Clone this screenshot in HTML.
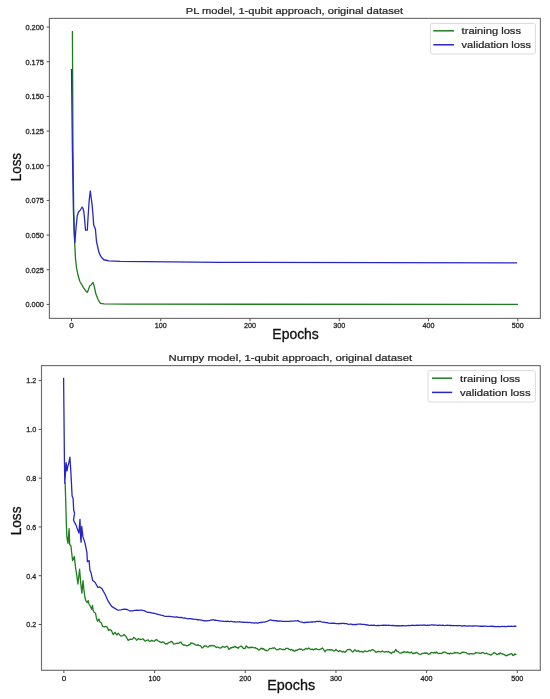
<!DOCTYPE html>
<html><head><meta charset="utf-8"><title>Loss curves</title>
<style>
html,body{margin:0;padding:0;background:#fff;}
body{width:550px;height:699px;overflow:hidden;font-family:"Liberation Sans", sans-serif;}
svg{display:block;will-change:transform;}
</style></head><body>
<svg width="550" height="699" viewBox="0 0 550 699" font-family="'Liberation Sans', sans-serif">
<rect width="550" height="699" fill="#fff"/>
<rect x="49.4" y="18.4" width="491" height="300" fill="none" stroke="#6f6f6f" stroke-width="1.15"/>
<line x1="71.5" y1="318.4" x2="71.5" y2="321.2" stroke="#505050" stroke-width="1"/>
<text x="71.5" y="328.1" font-size="7.9" text-anchor="middle" fill="#262626" textLength="4.5" lengthAdjust="spacingAndGlyphs" stroke="#262626" stroke-width="0.3">0</text>
<line x1="160.76" y1="318.4" x2="160.76" y2="321.2" stroke="#505050" stroke-width="1"/>
<text x="160.76" y="328.1" font-size="7.9" text-anchor="middle" fill="#262626" textLength="12" lengthAdjust="spacingAndGlyphs" stroke="#262626" stroke-width="0.3">100</text>
<line x1="250.02" y1="318.4" x2="250.02" y2="321.2" stroke="#505050" stroke-width="1"/>
<text x="250.02" y="328.1" font-size="7.9" text-anchor="middle" fill="#262626" textLength="12" lengthAdjust="spacingAndGlyphs" stroke="#262626" stroke-width="0.3">200</text>
<line x1="339.28" y1="318.4" x2="339.28" y2="321.2" stroke="#505050" stroke-width="1"/>
<text x="339.28" y="328.1" font-size="7.9" text-anchor="middle" fill="#262626" textLength="12" lengthAdjust="spacingAndGlyphs" stroke="#262626" stroke-width="0.3">300</text>
<line x1="428.54" y1="318.4" x2="428.54" y2="321.2" stroke="#505050" stroke-width="1"/>
<text x="428.54" y="328.1" font-size="7.9" text-anchor="middle" fill="#262626" textLength="12" lengthAdjust="spacingAndGlyphs" stroke="#262626" stroke-width="0.3">400</text>
<line x1="517.8" y1="318.4" x2="517.8" y2="321.2" stroke="#505050" stroke-width="1"/>
<text x="517.8" y="328.1" font-size="7.9" text-anchor="middle" fill="#262626" textLength="12" lengthAdjust="spacingAndGlyphs" stroke="#262626" stroke-width="0.3">500</text>
<line x1="46.6" y1="304.4" x2="49.4" y2="304.4" stroke="#505050" stroke-width="1"/>
<text x="44" y="307.25" font-size="7.9" text-anchor="end" fill="#262626" textLength="18.6" lengthAdjust="spacingAndGlyphs" stroke="#262626" stroke-width="0.3">0.000</text>
<line x1="46.6" y1="269.74" x2="49.4" y2="269.74" stroke="#505050" stroke-width="1"/>
<text x="44" y="272.59" font-size="7.9" text-anchor="end" fill="#262626" textLength="18.6" lengthAdjust="spacingAndGlyphs" stroke="#262626" stroke-width="0.3">0.025</text>
<line x1="46.6" y1="235.08" x2="49.4" y2="235.08" stroke="#505050" stroke-width="1"/>
<text x="44" y="237.93" font-size="7.9" text-anchor="end" fill="#262626" textLength="18.6" lengthAdjust="spacingAndGlyphs" stroke="#262626" stroke-width="0.3">0.050</text>
<line x1="46.6" y1="200.42" x2="49.4" y2="200.42" stroke="#505050" stroke-width="1"/>
<text x="44" y="203.27" font-size="7.9" text-anchor="end" fill="#262626" textLength="18.6" lengthAdjust="spacingAndGlyphs" stroke="#262626" stroke-width="0.3">0.075</text>
<line x1="46.6" y1="165.76" x2="49.4" y2="165.76" stroke="#505050" stroke-width="1"/>
<text x="44" y="168.61" font-size="7.9" text-anchor="end" fill="#262626" textLength="18.6" lengthAdjust="spacingAndGlyphs" stroke="#262626" stroke-width="0.3">0.100</text>
<line x1="46.6" y1="131.1" x2="49.4" y2="131.1" stroke="#505050" stroke-width="1"/>
<text x="44" y="133.95" font-size="7.9" text-anchor="end" fill="#262626" textLength="18.6" lengthAdjust="spacingAndGlyphs" stroke="#262626" stroke-width="0.3">0.125</text>
<line x1="46.6" y1="96.44" x2="49.4" y2="96.44" stroke="#505050" stroke-width="1"/>
<text x="44" y="99.29" font-size="7.9" text-anchor="end" fill="#262626" textLength="18.6" lengthAdjust="spacingAndGlyphs" stroke="#262626" stroke-width="0.3">0.150</text>
<line x1="46.6" y1="61.78" x2="49.4" y2="61.78" stroke="#505050" stroke-width="1"/>
<text x="44" y="64.63" font-size="7.9" text-anchor="end" fill="#262626" textLength="18.6" lengthAdjust="spacingAndGlyphs" stroke="#262626" stroke-width="0.3">0.175</text>
<line x1="46.6" y1="27.12" x2="49.4" y2="27.12" stroke="#505050" stroke-width="1"/>
<text x="44" y="29.97" font-size="7.9" text-anchor="end" fill="#262626" textLength="18.6" lengthAdjust="spacingAndGlyphs" stroke="#262626" stroke-width="0.3">0.200</text>
<polyline points="72.4,31.1 72.6,69 73,150 73.7,210 74.7,243.7 75.5,258.6 76.5,267.8 78.2,275.8 79.9,281.5 83.3,287.3 85.6,290.7 87.3,292.4 88.5,289.5 89.6,286.1 91.3,284.7 93.1,282.4 94.2,286.1 95.9,294.1 98.2,299.8 100.5,303.3 103.9,303.9 125,304.2 518,304.3" fill="none" stroke="#1f7d1f" stroke-width="1.3" stroke-linejoin="round"/>
<polyline points="71.5,68.9 72.4,150 73.4,210 74.3,235 74.9,242.5 76,228 77.2,216 78.5,212 80,210.5 81,209 82.1,207 83,208.5 83.8,211.5 84.7,220 85.5,230.2 87.3,230.2 88.2,215 89.2,200 90.3,191 91.2,198 92.2,205.7 93,215 93.7,225 95.4,229 96.5,241.5 97.3,245 98.8,251.8 99.9,254.7 101.6,257.5 103.8,259.8 105.1,260 108.9,260.9 120,261.4 220,262.4 517.1,262.8" fill="none" stroke="#2626c6" stroke-width="1.3" stroke-linejoin="round"/>
<text x="294.4" y="14" font-size="9.1" text-anchor="middle" fill="#262626" textLength="217.2" lengthAdjust="spacingAndGlyphs" stroke="#262626" stroke-width="0.22">PL model, 1-qubit approach, original dataset</text>
<text x="295.6" y="339.2" font-size="14" text-anchor="middle" fill="#111" textLength="46.5" lengthAdjust="spacingAndGlyphs" stroke="#111" stroke-width="0.3">Epochs</text>
<text x="0" y="0" font-size="14.2" text-anchor="middle" fill="#111" stroke="#111" stroke-width="0.3" textLength="28.2" lengthAdjust="spacingAndGlyphs" transform="translate(21.4,167.1) rotate(-90)">Loss</text>
<rect x="430.4" y="23.4" width="105" height="30.6" rx="2" fill="#fff" fill-opacity="0.8" stroke="#d6d6d6" stroke-width="0.9"/>
<line x1="433.3" y1="30.8" x2="454" y2="30.8" stroke="#1f7d1f" stroke-width="1.5"/>
<line x1="433.3" y1="44.8" x2="454" y2="44.8" stroke="#2626c6" stroke-width="1.5"/>
<text x="461.6" y="34.1" font-size="9" text-anchor="start" fill="#262626" textLength="59.4" lengthAdjust="spacingAndGlyphs" stroke="#262626" stroke-width="0.22">training loss</text>
<text x="461.6" y="48.1" font-size="9" text-anchor="start" fill="#262626" textLength="69.4" lengthAdjust="spacingAndGlyphs" stroke="#262626" stroke-width="0.22">validation loss</text>
<rect x="41.5" y="365.6" width="498.8" height="304.7" fill="none" stroke="#6f6f6f" stroke-width="1.15"/>
<line x1="63.9" y1="670.3" x2="63.9" y2="673.1" stroke="#505050" stroke-width="1"/>
<text x="63.9" y="681.4" font-size="7.9" text-anchor="middle" fill="#262626" textLength="4.5" lengthAdjust="spacingAndGlyphs" stroke="#262626" stroke-width="0.3">0</text>
<line x1="154.58" y1="670.3" x2="154.58" y2="673.1" stroke="#505050" stroke-width="1"/>
<text x="154.58" y="681.4" font-size="7.9" text-anchor="middle" fill="#262626" textLength="12" lengthAdjust="spacingAndGlyphs" stroke="#262626" stroke-width="0.3">100</text>
<line x1="245.26" y1="670.3" x2="245.26" y2="673.1" stroke="#505050" stroke-width="1"/>
<text x="245.26" y="681.4" font-size="7.9" text-anchor="middle" fill="#262626" textLength="12" lengthAdjust="spacingAndGlyphs" stroke="#262626" stroke-width="0.3">200</text>
<line x1="335.94" y1="670.3" x2="335.94" y2="673.1" stroke="#505050" stroke-width="1"/>
<text x="335.94" y="681.4" font-size="7.9" text-anchor="middle" fill="#262626" textLength="12" lengthAdjust="spacingAndGlyphs" stroke="#262626" stroke-width="0.3">300</text>
<line x1="426.62" y1="670.3" x2="426.62" y2="673.1" stroke="#505050" stroke-width="1"/>
<text x="426.62" y="681.4" font-size="7.9" text-anchor="middle" fill="#262626" textLength="12" lengthAdjust="spacingAndGlyphs" stroke="#262626" stroke-width="0.3">400</text>
<line x1="517.3" y1="670.3" x2="517.3" y2="673.1" stroke="#505050" stroke-width="1"/>
<text x="517.3" y="681.4" font-size="7.9" text-anchor="middle" fill="#262626" textLength="12" lengthAdjust="spacingAndGlyphs" stroke="#262626" stroke-width="0.3">500</text>
<line x1="38.7" y1="624.5" x2="41.5" y2="624.5" stroke="#505050" stroke-width="1"/>
<text x="36.2" y="627.35" font-size="7.9" text-anchor="end" fill="#262626" textLength="10" lengthAdjust="spacingAndGlyphs" stroke="#262626" stroke-width="0.3">0.2</text>
<line x1="38.7" y1="575.72" x2="41.5" y2="575.72" stroke="#505050" stroke-width="1"/>
<text x="36.2" y="578.57" font-size="7.9" text-anchor="end" fill="#262626" textLength="10" lengthAdjust="spacingAndGlyphs" stroke="#262626" stroke-width="0.3">0.4</text>
<line x1="38.7" y1="526.94" x2="41.5" y2="526.94" stroke="#505050" stroke-width="1"/>
<text x="36.2" y="529.79" font-size="7.9" text-anchor="end" fill="#262626" textLength="10" lengthAdjust="spacingAndGlyphs" stroke="#262626" stroke-width="0.3">0.6</text>
<line x1="38.7" y1="478.16" x2="41.5" y2="478.16" stroke="#505050" stroke-width="1"/>
<text x="36.2" y="481.01" font-size="7.9" text-anchor="end" fill="#262626" textLength="10" lengthAdjust="spacingAndGlyphs" stroke="#262626" stroke-width="0.3">0.8</text>
<line x1="38.7" y1="429.38" x2="41.5" y2="429.38" stroke="#505050" stroke-width="1"/>
<text x="36.2" y="432.23" font-size="7.9" text-anchor="end" fill="#262626" textLength="10" lengthAdjust="spacingAndGlyphs" stroke="#262626" stroke-width="0.3">1.0</text>
<line x1="38.7" y1="380.6" x2="41.5" y2="380.6" stroke="#505050" stroke-width="1"/>
<text x="36.2" y="383.45" font-size="7.9" text-anchor="end" fill="#262626" textLength="10" lengthAdjust="spacingAndGlyphs" stroke="#262626" stroke-width="0.3">1.2</text>
<polyline points="65.1,482.3 65.7,500 66.3,522.9 66.9,537.7 68,543.4 69.1,528.6 69.7,544.6 70.9,545.7 71.4,550.3 72.6,560.6 74.3,556.6 74.9,561.7 75.6,568 76.7,574.9 77.9,584 79.6,569.2 80.7,582.9 81.9,593.2 83,580.6 83.7,588 84.6,595 85.2,598.8 86,601 87.1,602.6 88.2,600.5 88.7,603.2 90.4,606.5 91.7,609.2 92.5,605.4 93.1,610.3 94.2,612.5 95.5,613 96.4,617.9 97.5,621.2 99.1,619 99.6,621.7 101.3,622.8 102.7,626.4 104.5,626.8 105.9,626.4 107.3,627.3 108.6,630.5 110,629.5 111.4,630.5 113.2,634.5 115,632.3 116.8,635 118.2,633.2 120.5,635.9 122.7,635.9 124.1,634.5 125.9,636.4 128.2,640.5 130,639.1 131,639.4 131.91,639.31 132.81,638.92 133.72,637.47 134.63,638.07 135.54,638.57 136.44,640.28 137.35,639.7 138.26,638.57 139.16,639.1 140.07,639.09 140.98,639.6 141.88,639.27 142.79,638.77 143.7,639.39 144.61,640.96 145.51,641.14 146.42,640.32 147.33,640.15 148.23,639.89 149.14,641.07 150.05,641.36 150.95,640.88 151.86,640.23 152.77,640.89 153.68,641.15 154.58,641.19 155.49,640.01 156.4,639.44 157.3,640.3 158.21,640.98 159.12,641.34 160.02,641.9 160.93,642.47 161.84,642.54 162.75,641.79 163.65,642.27 164.56,643.09 165.47,643.99 166.37,643.69 167.28,643.94 168.19,643.02 169.09,642.54 170,642.16 170.91,641.6 171.82,641.44 172.72,642.69 173.63,644.06 174.54,643.9 175.44,643.64 176.35,643.34 177.26,643.16 178.16,643.5 179.07,643.05 179.98,642.32 180.89,642.08 181.79,643.82 182.7,644.6 183.61,645.16 184.51,644.78 185.42,645.23 186.33,645.83 187.23,645.56 188.14,645.71 189.05,644.51 189.96,644.72 190.86,642.78 191.77,643.31 192.68,643.27 193.58,643.84 194.49,643.78 195.4,644.98 196.3,645.24 197.21,645.27 198.12,644.65 199.03,645.5 199.93,645.67 200.84,645.91 201.75,647.78 202.65,647.81 203.56,646.74 204.47,645.82 205.37,646.18 206.28,645.94 207.19,646.87 208.1,647.11 209,646.1 209.91,645.63 210.82,646.03 211.72,645.44 212.63,645.52 213.54,645.81 214.44,645.86 215.35,646.62 216.26,647.52 217.17,647.2 218.07,647.09 218.98,647.88 219.89,647.94 220.79,648.07 221.7,647.38 222.61,646.39 223.51,646.83 224.42,647.25 225.33,647.21 226.24,646.35 227.14,646.25 228.05,647.62 228.96,649.38 229.86,648.73 230.77,647.54 231.68,647.99 232.58,647.23 233.49,647.48 234.4,646.67 235.31,646.49 236.21,647.49 237.12,647.29 238.03,648.41 238.93,647.15 239.84,646.84 240.75,646.21 241.65,646.04 242.56,647.55 243.47,648.47 244.38,648.49 245.28,648.31 246.19,645.85 247.1,646.67 248,647.83 248.91,647.24 249.82,647.95 250.72,647.17 251.63,647.59 252.54,647.19 253.45,647.59 254.35,647.77 255.26,647.5 256.17,648.43 257.07,648.56 257.98,649.51 258.89,650.07 259.79,649.6 260.7,648.48 261.61,648.24 262.52,649.19 263.42,648.5 264.33,649.61 265.24,650.24 266.14,650.24 267.05,650.94 267.96,650.45 268.86,649.39 269.77,648.37 270.68,648.62 271.59,648.58 272.49,647.95 273.4,648.25 274.31,647.69 275.21,648.42 276.12,649.25 277.03,649.91 277.93,649.58 278.84,649.27 279.75,648.55 280.66,648.9 281.56,649.21 282.47,649.52 283.38,649.28 284.28,649.77 285.19,649.2 286.1,648.3 287,648.33 287.91,648.32 288.82,649.19 289.73,649.51 290.63,650.06 291.54,649.39 292.45,650.29 293.35,650.09 294.26,651.28 295.17,650.93 296.07,649.99 296.98,650.55 297.89,649.74 298.8,649.43 299.7,648.85 300.61,649.43 301.52,649.09 302.42,650.21 303.33,649.89 304.24,649.83 305.14,649.03 306.05,648.34 306.96,649.08 307.87,648.79 308.77,647.94 309.68,648.69 310.59,649.48 311.49,649.44 312.4,649.11 313.31,649.92 314.21,649.18 315.12,649.29 316.03,648.64 316.94,649.17 317.84,649.29 318.75,649.55 319.66,649.59 320.56,649.16 321.47,648.69 322.38,647.92 323.28,649.09 324.19,650.51 325.1,651.74 326.01,650.26 326.91,649.95 327.82,649.57 328.73,649.77 329.63,649.68 330.54,650.05 331.45,649.68 332.35,650.01 333.26,650.88 334.17,650.77 335.07,650.6 335.98,649.37 336.89,650.31 337.8,651.05 338.7,651.59 339.61,650.66 340.52,650.88 341.42,651.59 342.33,652.01 343.24,651.33 344.14,651.89 345.05,652.31 345.96,651.29 346.87,650.32 347.77,649.57 348.68,649.51 349.59,649.32 350.49,649.81 351.4,650.54 352.31,651.78 353.21,651.82 354.12,650.3 355.03,649.77 355.94,650.7 356.84,651.39 357.75,650.95 358.66,650.52 359.56,651.87 360.47,651.71 361.38,651.3 362.28,651.64 363.19,652.34 364.1,651.41 365.01,650.94 365.91,651.4 366.82,651.6 367.73,651.28 368.63,650.97 369.54,650.47 370.45,651.06 371.35,650.11 372.26,649.65 373.17,649.88 374.08,650.44 374.98,651.21 375.89,652.32 376.8,652.16 377.7,651.47 378.61,651.5 379.52,651.61 380.42,651.84 381.33,651.92 382.24,650.89 383.15,651.54 384.05,651.79 384.96,652.04 385.87,651.69 386.77,651.69 387.68,651.99 388.59,651.46 389.49,652.32 390.4,652.68 391.31,653.46 392.22,652.53 393.12,651.84 394.03,652.27 394.94,650.98 395.84,649.44 396.75,651.12 397.66,651.19 398.56,651.81 399.47,652.84 400.38,653.14 401.29,653.14 402.19,652.19 403.1,652.73 404.01,651.54 404.91,652.21 405.82,652.11 406.73,652.61 407.63,651.79 408.54,652.37 409.45,652.9 410.36,652.69 411.26,651.93 412.17,653.01 413.08,653.81 413.98,652.91 414.89,653.51 415.8,652.58 416.7,652.32 417.61,653.23 418.52,653.41 419.43,654.22 420.33,654.32 421.24,654.03 422.15,653.4 423.05,653.4 423.96,653.59 424.87,652.83 425.77,653.32 426.68,652.83 427.59,653.75 428.5,654.32 429.4,653.91 430.31,653.74 431.22,652.4 432.12,652.54 433.03,652.54 433.94,653.1 434.84,652.28 435.75,652.97 436.66,652.06 437.57,653.14 438.47,653.52 439.38,653.48 440.29,653.33 441.19,653.52 442.1,653.22 443.01,652.18 443.91,652.55 444.82,651.96 445.73,652.53 446.64,652.84 447.54,653.71 448.45,653.41 449.36,654 450.26,653.21 451.17,653.45 452.08,653.59 452.98,653.26 453.89,653.2 454.8,652.33 455.71,652.84 456.61,652.89 457.52,652.62 458.43,652.99 459.33,653.5 460.24,653.71 461.15,652.97 462.05,652.41 462.96,652.2 463.87,652.46 464.78,652.41 465.68,652.6 466.59,652.91 467.5,653.69 468.4,653.93 469.31,654.27 470.22,653.56 471.12,653.68 472.03,653.91 472.94,653.72 473.85,653.78 474.75,653.56 475.66,652.47 476.57,652.89 477.47,652.92 478.38,652.85 479.29,652.95 480.19,653.44 481.1,653.29 482.01,652.5 482.92,652.6 483.82,652.88 484.73,653.73 485.64,653.45 486.54,653.08 487.45,653.95 488.36,654.11 489.26,654.21 490.17,654.89 491.08,654.98 491.99,654.25 492.89,653.78 493.8,652.72 494.71,652.81 495.61,653.32 496.52,654.29 497.43,654.68 498.33,653.68 499.24,654.07 500.15,652.91 501.06,653.54 501.96,653.43 502.87,654.2 503.78,654.48 504.68,654.8 505.59,655.68 506.5,655.44 507.4,655.51 508.31,654.72 509.22,654.61 510.13,653.93 511.03,653.97 511.94,653.75 512.85,655.55 513.75,655.41 514.66,653.87 515.57,654.48 516.47,654.63" fill="none" stroke="#1f7d1f" stroke-width="1.3" stroke-linejoin="round"/>
<polyline points="63.6,377.7 64.4,457.5 64.8,483.2 66.1,462.6 67,470.9 67.8,466.3 68.7,463.5 69.9,457.1 71,474.3 72.1,496 73.1,498.3 73.7,510.3 74.6,513 73.5,520.2 76,525.1 78.9,533.1 80,519.4 80.6,537.7 81.1,542.3 81.7,526.3 82.9,536.6 85.1,543.4 86.9,552.6 87.4,561.7 89.1,560.6 89.9,570.3 91,572.6 92.7,580.6 95,582.3 97.9,587.5 99.6,586.9 101.9,588.6 104.8,593.8 108.2,601.2 111.6,606.4 114.5,608.1 117.9,610.2 120.8,609.8 124.2,609.2 127.1,609.5 130,611 131,610.86 131.91,610.79 132.81,610.86 133.72,610.58 134.63,610.45 135.54,610.37 136.44,610.17 137.35,610.27 138.26,610.35 139.16,610.44 140.07,610.15 140.98,610.17 141.88,610.08 142.79,610.39 143.7,610.64 144.61,610.69 145.51,611.39 146.42,611.81 147.33,612.04 148.23,612.33 149.14,612.41 150.05,612.47 150.95,612.84 151.86,612.86 152.77,613.05 153.68,613.25 154.58,613.34 155.49,613.68 156.4,613.9 157.3,614.33 158.21,614.46 159.12,614.73 160.02,614.91 160.93,615.2 161.84,615.36 162.75,615.44 163.65,615.91 164.56,616.16 165.47,616.28 166.37,616.38 167.28,616.36 168.19,616.39 169.09,616.44 170,616.39 170.91,616.72 171.82,616.68 172.72,616.9 173.63,616.79 174.54,617.09 175.44,617.18 176.35,616.89 177.26,616.98 178.16,617.38 179.07,617.35 179.98,617.63 180.89,617.51 181.79,617.46 182.7,617.81 183.61,618.07 184.51,618.02 185.42,618.04 186.33,618.27 187.23,618.72 188.14,618.85 189.05,618.65 189.96,618.72 190.86,618.74 191.77,618.79 192.68,619.2 193.58,619.09 194.49,619.3 195.4,619.37 196.3,619.38 197.21,619.73 198.12,619.65 199.03,619.97 199.93,619.91 200.84,620.14 201.75,620.21 202.65,620.35 203.56,620.75 204.47,620.84 205.37,620.7 206.28,620.99 207.19,620.79 208.1,620.62 209,620.64 209.91,620.41 210.82,619.96 211.72,620.1 212.63,619.77 213.54,619.88 214.44,620.25 215.35,620.25 216.26,620.35 217.17,620.39 218.07,620.52 218.98,620.89 219.89,620.9 220.79,621.08 221.7,621.05 222.61,621.11 223.51,621.39 224.42,621.28 225.33,621.32 226.24,621.5 227.14,621.27 228.05,621.23 228.96,621.59 229.86,621.67 230.77,621.47 231.68,621.43 232.58,621.7 233.49,621.89 234.4,621.63 235.31,621.95 236.21,622.03 237.12,621.97 238.03,621.91 238.93,621.79 239.84,621.76 240.75,622.21 241.65,622.04 242.56,622.24 243.47,622.13 244.38,622.39 245.28,622.39 246.19,622.29 247.1,622.25 248,622.53 248.91,622.35 249.82,622.43 250.72,622.65 251.63,622.9 252.54,622.9 253.45,622.81 254.35,623.13 255.26,622.94 256.17,622.86 257.07,623.01 257.98,623.03 258.89,622.73 259.79,622.59 260.7,622.52 261.61,622.48 262.52,622.15 263.42,622.04 264.33,622.04 265.24,621.89 266.14,621.52 267.05,621.26 267.96,620.96 268.86,620.5 269.77,620.15 270.68,619.87 271.59,620.17 272.49,620.32 273.4,620.58 274.31,620.32 275.21,620.64 276.12,620.75 277.03,621 277.93,620.95 278.84,621.25 279.75,620.93 280.66,621.08 281.56,621.22 282.47,621.35 283.38,621.34 284.28,621.34 285.19,621.4 286.1,621.49 287,621.28 287.91,621.34 288.82,621.41 289.73,621.37 290.63,621.12 291.54,621.19 292.45,621.19 293.35,621.03 294.26,620.97 295.17,620.8 296.07,620.81 296.98,620.79 297.89,620.65 298.8,621.12 299.7,621.61 300.61,621.89 301.52,622.11 302.42,622.22 303.33,622.6 304.24,622.51 305.14,622.39 306.05,622.51 306.96,622.16 307.87,622.34 308.77,622.02 309.68,622.15 310.59,622.07 311.49,621.89 312.4,622 313.31,621.88 314.21,621.85 315.12,621.93 316.03,621.6 316.94,621.35 317.84,621.37 318.75,621.49 319.66,621.34 320.56,621.45 321.47,621.93 322.38,622.06 323.28,622.12 324.19,622.46 325.1,622.41 326.01,622.68 326.91,622.62 327.82,622.76 328.73,623.02 329.63,623.2 330.54,623.29 331.45,623.15 332.35,623.27 333.26,623.24 334.17,623.22 335.07,623.43 335.98,623.65 336.89,623.71 337.8,623.67 338.7,623.77 339.61,623.5 340.52,623.39 341.42,623.5 342.33,623.45 343.24,623.42 344.14,623.51 345.05,623.63 345.96,623.67 346.87,623.71 347.77,624.05 348.68,624.29 349.59,624.21 350.49,624.11 351.4,624.16 352.31,624.65 353.21,624.39 354.12,624.57 355.03,624.52 355.94,624.35 356.84,624.49 357.75,624.14 358.66,624.06 359.56,624.15 360.47,624.01 361.38,624.42 362.28,624.32 363.19,624.32 364.1,624.34 365.01,624.67 365.91,624.73 366.82,624.9 367.73,625.01 368.63,625.18 369.54,625.35 370.45,625.32 371.35,625.15 372.26,625.29 373.17,625.25 374.08,625.22 374.98,625.47 375.89,625.7 376.8,625.57 377.7,625.49 378.61,625.45 379.52,625.54 380.42,625.43 381.33,625.39 382.24,625.38 383.15,625.16 384.05,625.23 384.96,625.35 385.87,625.04 386.77,625.37 387.68,625.39 388.59,625.15 389.49,625.27 390.4,625.4 391.31,625.59 392.22,625.43 393.12,625.5 394.03,625.69 394.94,625.73 395.84,625.83 396.75,625.67 397.66,625.74 398.56,625.59 399.47,625.75 400.38,625.82 401.29,625.75 402.19,625.75 403.1,625.51 404.01,625.74 404.91,625.83 405.82,625.83 406.73,625.62 407.63,625.67 408.54,625.45 409.45,625.65 410.36,625.66 411.26,625.42 412.17,625.23 413.08,625.33 413.98,625.39 414.89,625.49 415.8,625.37 416.7,625.12 417.61,625.4 418.52,625.12 419.43,625.36 420.33,625.13 421.24,625.13 422.15,625.32 423.05,625.06 423.96,624.99 424.87,625.12 425.77,625.23 426.68,625.3 427.59,625.23 428.5,625.3 429.4,625.08 430.31,625.22 431.22,624.89 432.12,624.89 433.03,625.04 433.94,624.99 434.84,625.18 435.75,625.21 436.66,625.18 437.57,625.33 438.47,625.25 439.38,625.14 440.29,625.16 441.19,625.38 442.1,625.48 443.01,625.21 443.91,625.44 444.82,625.57 445.73,625.42 446.64,625.42 447.54,625.26 448.45,625.39 449.36,625.43 450.26,625.5 451.17,625.28 452.08,625.67 452.98,625.58 453.89,625.52 454.8,625.71 455.71,625.67 456.61,625.64 457.52,625.74 458.43,625.51 459.33,625.68 460.24,625.69 461.15,625.95 462.05,626.02 462.96,625.76 463.87,625.81 464.78,625.68 465.68,625.81 466.59,626.03 467.5,626.14 468.4,625.99 469.31,625.89 470.22,625.83 471.12,626.02 472.03,626.22 472.94,625.93 473.85,626.16 474.75,625.89 475.66,625.92 476.57,625.96 477.47,626.19 478.38,626.1 479.29,626.1 480.19,626.24 481.1,626.06 482.01,626.31 482.92,626.11 483.82,626.25 484.73,626.18 485.64,626.15 486.54,626.3 487.45,626.31 488.36,626.29 489.26,626.31 490.17,626.38 491.08,626.24 491.99,626.23 492.89,626.43 493.8,626.49 494.71,626.47 495.61,626.62 496.52,626.56 497.43,626.66 498.33,626.42 499.24,626.59 500.15,626.65 501.06,626.7 501.96,626.44 502.87,626.37 503.78,626.62 504.68,626.35 505.59,626.63 506.5,626.64 507.4,626.3 508.31,626.25 509.22,626.45 510.13,626.28 511.03,626.16 511.94,626.45 512.85,626.33 513.75,626.46 514.66,626.19 515.57,626.24 516.47,626.37" fill="none" stroke="#2626c6" stroke-width="1.3" stroke-linejoin="round"/>
<text x="290.3" y="361" font-size="9.1" text-anchor="middle" fill="#262626" textLength="243.6" lengthAdjust="spacingAndGlyphs" stroke="#262626" stroke-width="0.22">Numpy model, 1-qubit approach, original dataset</text>
<text x="291.2" y="690.2" font-size="14" text-anchor="middle" fill="#111" textLength="48" lengthAdjust="spacingAndGlyphs" stroke="#111" stroke-width="0.3">Epochs</text>
<text x="0" y="0" font-size="14.2" text-anchor="middle" fill="#111" stroke="#111" stroke-width="0.3" textLength="28.8" lengthAdjust="spacingAndGlyphs" transform="translate(21.2,520.9) rotate(-90)">Loss</text>
<rect x="428" y="370.6" width="107.4" height="31.4" rx="2" fill="#fff" fill-opacity="0.8" stroke="#d6d6d6" stroke-width="0.9"/>
<line x1="432" y1="378.2" x2="452.2" y2="378.2" stroke="#1f7d1f" stroke-width="1.5"/>
<line x1="432" y1="392.4" x2="452.2" y2="392.4" stroke="#2626c6" stroke-width="1.5"/>
<text x="460" y="381.9" font-size="9" text-anchor="start" fill="#262626" textLength="60.2" lengthAdjust="spacingAndGlyphs" stroke="#262626" stroke-width="0.22">training loss</text>
<text x="460" y="396" font-size="9" text-anchor="start" fill="#262626" textLength="70.6" lengthAdjust="spacingAndGlyphs" stroke="#262626" stroke-width="0.22">validation loss</text>
</svg>
</body></html>
